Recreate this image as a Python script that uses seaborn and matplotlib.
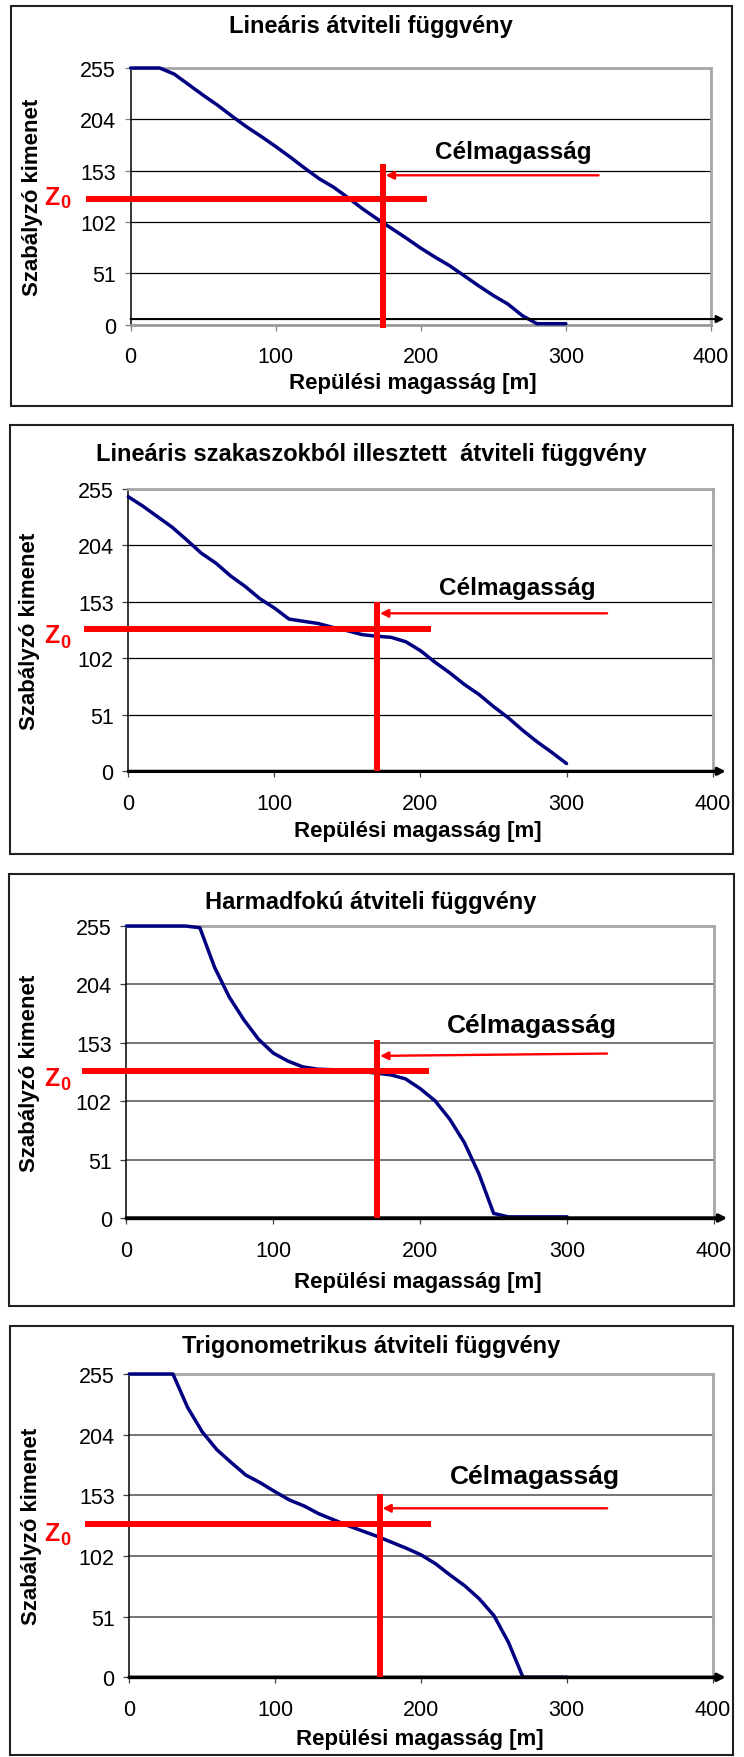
import matplotlib
matplotlib.use("Agg")
import matplotlib.pyplot as plt
from matplotlib.patches import Rectangle
from matplotlib.transforms import Affine2D
import pandas as pd
import seaborn as sns

# ---- data -------------------------------------------------------------
altitude = [0, 10, 20, 30, 40, 50, 60, 70, 80, 90, 100, 110, 120, 130, 140, 150,
            160, 170, 180, 190, 200, 210, 220, 230, 240, 250, 260, 270, 280, 290, 300]

linear_out = [255, 255, 255, 249, 238.5, 228, 218, 207, 196.5, 187, 177, 166.5, 155.5,
              145, 136.5, 126, 115, 105, 95.5, 86, 76, 67, 58.5, 48.5, 38.5, 29, 20.5,
              9, 1, 1, 1]
piecewise_out = [248, 239.5, 230, 220.5, 209, 197, 188, 176.5, 167, 156, 147.5, 137.5,
                 135.5, 133.5, 130, 127, 123.5, 122, 121, 117, 109, 98.5, 89, 78.5, 69.5,
                 58.5, 48.5, 37, 26.5, 17, 7]
cubic_out = [255, 255, 255, 255, 255, 253.5, 219, 193, 173, 156, 144, 137, 132, 130,
             129.5, 128.5, 128, 126.5, 125, 121.5, 113, 102.5, 86.5, 66, 38.5, 4, 1, 1,
             1, 1, 1]
trig_out = [255, 255, 255, 255, 227, 206.5, 191.5, 180.5, 170, 163.5, 156, 149, 144,
            137.5, 132.5, 127.5, 123, 118.5, 113.5, 108.5, 103, 95.5, 86, 77, 66, 52,
            29.5, 0, 0, 0, 0]

series = [linear_out, piecewise_out, cubic_out, trig_out]
titles = ["Lineáris átviteli függvény",
          "Lineáris szakaszokból illesztett  átviteli függvény",
          "Harmadfokú átviteli függvény",
          "Trigonometrikus átviteli függvény"]
x_ticks = [0, 100, 200, 300, 400]
y_ticks = [0, 51, 102, 153, 204, 255]
x_label = "Repülési magasság [m]"
y_label = "Szabályzó kimenet"
target_label = "Célmagasság"

# target altitude (red vertical) and the resulting Z0 output level (red horizontal)
target_altitude = [174, 170, 170.4, 172]
z0_level = [125, 128.5, 128.4, 129]

# ---- styling ----------------------------------------------------------
sns.set_theme(style="white")
plt.rcParams["font.family"] = ["Liberation Sans", "DejaVu Sans"]

W, H = 744, 1758
fig = plt.figure(figsize=(W / 100, H / 100), dpi=100)
fig.patch.set_facecolor("white")
# pixel coordinates, origin top-left
px = Affine2D().scale(1 / W, -1 / H).translate(0, 1) + fig.transFigure
PT = 1 / 1.389  # points per pixel at 100 dpi

layout = [
    dict(box=(10.5, 7, 731.5, 407), ax=(130.6, 69, 711, 325.7), title_y=27,
         ylab_x=33, xlab=(413, 383), grid=("#000000", 0.9), bottom=("#9a9a9a", 2.0),
         axis_arrow=(5.6, 1.5), vline=(-3.6, 159.6), zline=(-31, 204), z_base=(5, 8),
         arrow=(322.5, 148.4, 175.8, 148.4), target_txt=(263.5, 165.3, 17.5)),
    dict(box=(9.5, 426, 732.5, 855), ax=(128.3, 490, 712.6, 772.3), title_y=455,
         ylab_x=29.5, xlab=(418, 832), grid=("#000000", 0.9), bottom=("#000000", 2.2),
         axis_arrow=(0, 2.2), vline=(0, 153.2), zline=(-30, 207), z_base=(13, 18),
         arrow=(327.8, 142.7, 172.3, 142.7), target_txt=(266, 160, 17.5)),
    dict(box=(8.5, 875, 734, 1307), ax=(126.4, 927, 714, 1219), title_y=903,
         ylab_x=29.5, xlab=(418, 1283), grid=("#6a6a6a", 1.3), bottom=("#000000", 2.4),
         axis_arrow=(0, 2.4), vline=(0, 155.4), zline=(-30.4, 206), z_base=(14, 18),
         arrow=(327.2, 143.6, 172.7, 141.6), target_txt=(276, 162.7, 19)),
    dict(box=(9.5, 1327, 732.5, 1756), ax=(129.2, 1375, 712.6, 1678.3), title_y=1347,
         ylab_x=32, xlab=(420, 1740), grid=("#6a6a6a", 1.3), bottom=("#000000", 2.4),
         axis_arrow=(0, 2.4), vline=(0, 154.1), zline=(-30.6, 207.2), z_base=(16, 20),
         arrow=(327.7, 142.1, 173.6, 142.1), target_txt=(278, 163.1, 19)),
]


def px_rect(x0, y0, x1, y1):
    return [x0 / W, 1 - y1 / H, (x1 - x0) / W, (y1 - y0) / H]


for i, p in enumerate(layout):
    # outer chart frame
    bx0, by0, bx1, by1 = p["box"]
    fig.add_artist(Rectangle((bx0, by0), bx1 - bx0, by1 - by0, transform=px,
                             fill=False, lw=1.5, ec="#202020"))
    fig.text(371, p["title_y"], titles[i], transform=px, ha="center", va="center",
             fontsize=17, fontweight="bold", color="black")

    ax = fig.add_axes(px_rect(*p["ax"]))
    ax.set_facecolor("white")
    df = pd.DataFrame({"altitude": altitude, "output": series[i]})
    sns.lineplot(data=df, x="altitude", y="output", ax=ax, color="#000080",
                 lw=2.5, zorder=3, clip_on=False)

    ax.set_xlim(0, 400)
    ax.set_ylim(0, 255)
    ax.set_xticks(x_ticks)
    ax.set_yticks(y_ticks)
    ax.set_axisbelow(True)
    ax.yaxis.grid(True, color=p["grid"][0], lw=p["grid"][1])
    ax.xaxis.grid(False)

    ax.spines["left"].set(color="black", lw=1.1)
    for s in ("top", "right"):
        ax.spines[s].set(color="#a6a6a6", lw=2.0, visible=True)
    ax.spines["bottom"].set(color=p["bottom"][0], lw=p["bottom"][1])

    tick_col = "#808080" if i == 0 else "#404040"
    ax.tick_params(axis="both", direction="out", length=4.5, width=0.9,
                   color=tick_col, labelsize=15.5, labelcolor="black",
                   left=True, bottom=True)
    ax.tick_params(axis="x", pad=11)
    ax.tick_params(axis="y", pad=6)

    ax.set_xlabel(x_label, fontsize=16, fontweight="bold", color="black")
    ax.xaxis.set_label_coords(p["xlab"][0], p["xlab"][1], transform=px)
    ax.xaxis.label.set_va("center")
    ax.set_ylabel(y_label, fontsize=16, fontweight="bold", color="black")
    ax.yaxis.set_label_coords(p["ylab_x"], (p["ax"][1] + p["ax"][3]) / 2, transform=px)
    ax.yaxis.label.set_va("center")

    # x axis arrow
    ay, aw = p["axis_arrow"]
    ax.annotate("", xy=(409, ay), xytext=(0, ay), annotation_clip=False,
                arrowprops=dict(arrowstyle="-|>", color="black", lw=aw,
                                mutation_scale=11, shrinkA=0, shrinkB=0),
                zorder=4)

    # target altitude marker and Z0 level
    t = target_altitude[i]
    z = z0_level[i]
    ax.plot([t, t], list(p["vline"]), color="#ff0000", lw=4.3,
            solid_capstyle="butt", clip_on=False, zorder=5)
    ax.plot(list(p["zline"]), [z, z], color="#ff0000", lw=4.3,
            solid_capstyle="butt", clip_on=False, zorder=5)

    tx0, ty0, tx1, ty1 = p["arrow"]
    ax.annotate("", xy=(tx1, ty1), xytext=(tx0, ty0), annotation_clip=False,
                arrowprops=dict(arrowstyle="-|>", color="#ff0000", lw=1.7,
                                mutation_scale=12, shrinkA=0, shrinkB=0),
                zorder=5)
    cx, cy, cfs = p["target_txt"]
    ax.text(cx, cy, target_label, ha="center", va="baseline", fontsize=cfs,
            fontweight="bold", color="black")

    # "Z0" label left of the axis: capital Z with a subscript zero
    zb, sb = p["z_base"]
    ax.annotate("Z", xy=(0, z), xytext=((44 - p["ax"][0]) * PT, -zb * PT),
                textcoords="offset points", ha="left", va="baseline",
                color="#ff0000", fontsize=18, fontweight="bold",
                annotation_clip=False)
    ax.annotate("0", xy=(0, z), xytext=((60 - p["ax"][0]) * PT, -sb * PT),
                textcoords="offset points", ha="left", va="baseline",
                color="#ff0000", fontsize=13, fontweight="bold",
                annotation_clip=False)

fig.savefig("out.png", dpi=100, facecolor="white")
